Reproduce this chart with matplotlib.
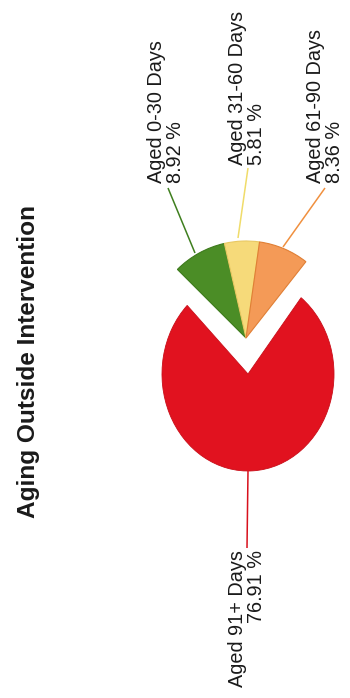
import matplotlib
matplotlib.use("Agg")
import matplotlib.pyplot as plt
from matplotlib.transforms import Affine2D

# Aging buckets and their share of the total (percent)
buckets = ["Aged 0-30 Days", "Aged 31-60 Days", "Aged 61-90 Days", "Aged 91+ Days"]
shares = [8.92, 5.81, 8.36, 76.91]
colors = ["#4b8d26", "#f6da7a", "#f49a57", "#e1121f"]
edge_colors = ["#3d7a1c", "#e9c862", "#e07f35", "#c90d18"]
title = "Aging Outside Intervention"

W, H = 350, 698
fig = plt.figure(figsize=(W / 100, H / 100), dpi=100)
ax = fig.add_axes([0, 0, 1, 1])

# Small buckets share one detached center; the large bucket keeps its own
small_center = (246, H - 338)
small_radius = 97
big_center = (248, H - 374)
big_rx, big_ry = 86, 97

wedges, _ = ax.pie(
    shares,
    colors=colors,
    startangle=135,
    counterclock=False,
    radius=small_radius,
    center=small_center,
    wedgeprops=dict(linewidth=0.8),
)
for w, ec in zip(wedges, edge_colors):
    w.set_edgecolor(ec)

big = wedges[3]
big.set_center((0, 0))
big.set_radius(1)
big.set_linewidth(0.6)
big.set_transform(Affine2D().scale(big_rx, big_ry).translate(*big_center) + ax.transData)

ax.set_xlim(0, W)
ax.set_ylim(0, H)
ax.set_aspect("auto")
ax.axis("off")

font = ["Liberation Sans", "DejaVu Sans"]

# Leader lines and rotated labels
label_specs = [
    # (line start, line end, text anchor, multialignment)
    ((195, 253), (168, 188), (166, 183), "left"),
    ((238, 238), (248, 168), (247, 165), "left"),
    ((283, 247), (325, 188), (325, 183), "left"),
    ((248, 471), (247, 548), (247, 550), "right"),
]
line_colors = ["#3f7f1f", "#f0dc6a", "#f0903f", "#d8101c"]
for (p0, p1, anchor, malign), name, val, lc in zip(label_specs, buckets, shares, line_colors):
    ax.plot([p0[0], p1[0]], [H - p0[1], H - p1[1]], color=lc, lw=1.1, solid_capstyle="butt")
    va = "bottom" if malign == "left" else "top"
    ax.text(anchor[0], H - anchor[1], f"{name}\n{val:.2f} %", rotation=90,
            ha="center", va=va, multialignment=malign,
            fontsize=14.3, family=font, color="#1a1a1a", linespacing=0.95)

ax.text(29, H - 361, title, rotation=90, ha="center", va="center",
        fontsize=17.6, fontweight="bold", family=font, color="#1a1a1a")

fig.savefig("out.png", dpi=100, facecolor="white")
